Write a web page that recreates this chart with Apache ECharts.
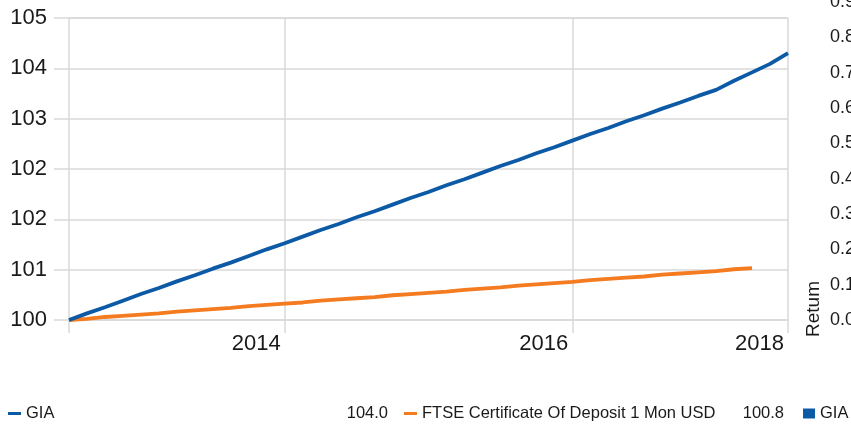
<!DOCTYPE html>
<html>
<head>
<meta charset="utf-8">
<script src="https://cdn.jsdelivr.net/npm/echarts@6/dist/echarts.min.js"></script>
<style>
html,body{margin:0;padding:0;background:#fff;}
#chart{width:851px;height:424px;}
</style>
</head>
<body>
<div id="chart"></div>
<script>
// ---- data ----
const periods = ['P0','P1','P2','P3','P4','P5','P6','P7','P8','P9','P10','P11','P12','P13','P14','P15','P16','P17','P18','P19','P20','P21','P22','P23','P24','P25','P26','P27','P28','P29','P30','P31','P32','P33','P34','P35','P36','P37','P38','P39','P40'];
const xTickIndex = [0, 12, 28, 40];
const xTickLabels = ['', '2014', '2016', '2018'];
const yTickLabels = ['100', '101', '102', '102', '103', '104', '105'];
const rightTickLabels = ['0.0','0.1','0.2','0.3','0.4','0.5','0.6','0.7','0.8','0.9'];
const giaName = 'GIA';
const ftseName = 'FTSE Certificate Of Deposit 1 Mon USD';
const giaValues = [100.00,100.11,100.21,100.32,100.43,100.53,100.64,100.74,100.85,100.95,
  101.06,101.17,101.27,101.38,101.49,101.59,101.70,101.80,101.91,102.02,
  102.12,102.23,102.33,102.44,102.55,102.65,102.76,102.86,102.97,103.08,
  103.18,103.29,103.39,103.50,103.60,103.71,103.81,103.96,104.10,104.24,104.42];
const ftseValues = [100.00,100.02,100.05,100.07,100.09,100.11,100.14,100.16,100.18,100.20,
  100.23,100.25,100.27,100.29,100.32,100.34,100.36,100.38,100.41,100.43,
  100.45,100.47,100.50,100.52,100.54,100.57,100.59,100.61,100.63,100.66,
  100.68,100.70,100.72,100.75,100.77,100.79,100.81,100.84,100.86];
const legendValues = {'GIA': '104.0', 'FTSE Certificate Of Deposit 1 Mon USD': '100.8'};
const rightAxisName = 'Retum';

// ---- chart ----
const FONT = '"Liberation Sans", Arial, sans-serif';
const TEXT = '#1a1a1a';
const GRIDC = '#d9d9d9';
const BLUE = '#0c5aa6';
const ORANGE = '#f47b20';
const isTick = (i) => xTickIndex.indexOf(i) >= 0;

const chart = echarts.init(document.getElementById('chart'));
chart.setOption({
  animation: false,
  backgroundColor: '#fff',
  textStyle: {fontFamily: FONT},
  grid: [
    {left: 69, right: 63, top: 18, bottom: 104, containLabel: false, outerBoundsMode: 'none'},
    {left: 863, width: 300, top: 2, bottom: 104, containLabel: false, outerBoundsMode: 'none'}
  ],
  xAxis: [
    {
      type: 'category', gridIndex: 0, data: periods, boundaryGap: false,
      axisLine: {show: true, lineStyle: {color: GRIDC, width: 1.5}},
      axisTick: {show: true, length: 13, interval: (i) => isTick(i), lineStyle: {color: GRIDC, width: 1.5}},
      splitLine: {show: true, interval: (i) => isTick(i), lineStyle: {color: GRIDC, width: 1.5}},
      axisLabel: {
        show: true, interval: (i) => isTick(i), fontSize: 22, color: TEXT, fontFamily: FONT,
        align: 'right', margin: 13, padding: [0, 4, 0, 0],
        formatter: (v, i) => { const k = xTickIndex.indexOf(i); return k >= 0 ? xTickLabels[k] : ''; }
      }
    },
    {
      type: 'category', gridIndex: 1, data: [''], show: false
    }
  ],
  yAxis: [
    {
      type: 'value', gridIndex: 0, min: 100, max: 105, interval: 5 / 6,
      axisLine: {show: false},
      axisTick: {show: true, length: 15, lineStyle: {color: GRIDC, width: 1.5}},
      splitLine: {show: true, lineStyle: {color: GRIDC, width: 1.5}},
      axisLabel: {
        fontSize: 22, color: TEXT, fontFamily: FONT, margin: 22,
        formatter: (v) => yTickLabels[Math.round((v - 100) / (5 / 6))]
      }
    },
    {
      type: 'value', gridIndex: 1, min: 0, max: 0.9, interval: 0.1,
      axisLine: {show: false}, axisTick: {show: false},
      splitLine: {show: true, lineStyle: {color: GRIDC, width: 1.5}},
      axisLabel: {
        fontSize: 18, color: TEXT, fontFamily: FONT, margin: 8,
        formatter: (v) => rightTickLabels[Math.round(v * 10)]
      },
      name: rightAxisName, nameLocation: 'start', nameGap: 17, nameRotate: 90,
      nameTextStyle: {fontSize: 19, color: TEXT, fontFamily: FONT, align: 'left', verticalAlign: 'bottom', padding: [0, 0, 40, 0]}
    }
  ],
  legend: [
    {
      left: 8, top: 405, padding: 0, itemGap: 16, itemWidth: 13, itemHeight: 3, icon: 'rect',
      data: [giaName, ftseName],
      textStyle: {
        fontSize: 16.5, color: TEXT, fontFamily: FONT,
        rich: {
          n: {width: 304, fontSize: 16.5, color: TEXT, fontFamily: FONT},
          v: {width: 58, align: 'right', fontSize: 16.5, color: TEXT, fontFamily: FONT}
        }
      },
      formatter: (name) => '{n|' + name + '}{v|' + legendValues[name] + '}'
    },
    {
      left: 803, top: 405, padding: 0, itemWidth: 12, itemHeight: 10, icon: 'rect',
      data: [giaName],
      textStyle: {fontSize: 16.5, color: TEXT, fontFamily: FONT}
    }
  ],
  series: [
    {
      name: giaName, type: 'line', xAxisIndex: 0, yAxisIndex: 0, data: giaValues,
      showSymbol: false, symbol: 'none', color: BLUE, lineStyle: {color: BLUE, width: 3.8}, z: 3
    },
    {
      name: ftseName, type: 'line', xAxisIndex: 0, yAxisIndex: 0, data: ftseValues,
      showSymbol: false, symbol: 'none', color: ORANGE, lineStyle: {color: ORANGE, width: 3.8}, z: 2
    }
  ]
});
</script>
</body>
</html>
